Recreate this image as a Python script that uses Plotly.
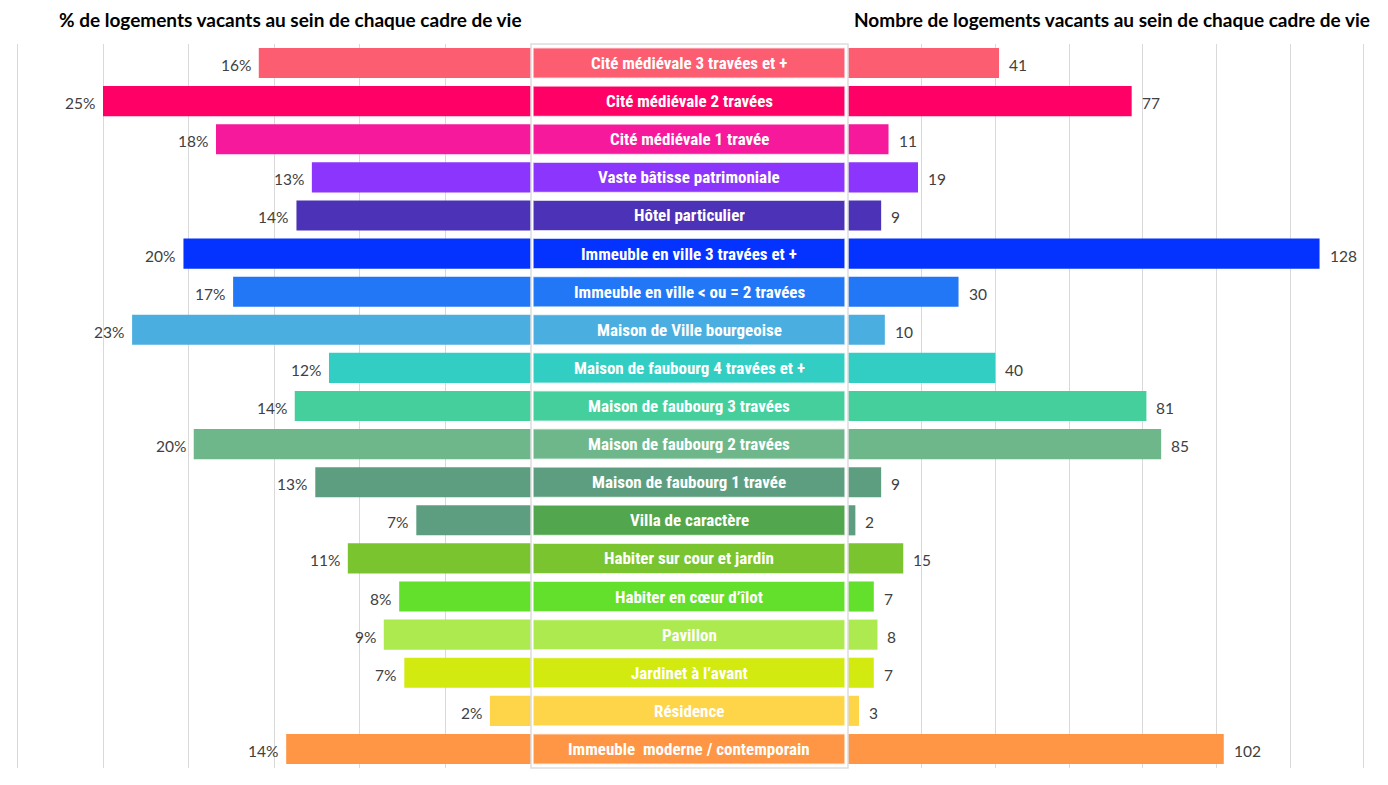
import plotly.graph_objects as go

categories = [
    "Cité médiévale 3 travées et +",
    "Cité médiévale 2 travées",
    "Cité médiévale 1 travée",
    "Vaste bâtisse patrimoniale",
    "Hôtel particulier",
    "Immeuble en ville 3 travées et +",
    "Immeuble en ville < ou = 2 travées",
    "Maison de Ville bourgeoise",
    "Maison de faubourg 4 travées et +",
    "Maison de faubourg 3 travées",
    "Maison de faubourg 2 travées",
    "Maison de faubourg 1 travée",
    "Villa de caractère",
    "Habiter sur cour et jardin",
    "Habiter en cœur d’îlot",
    "Pavillon",
    "Jardinet à l’avant",
    "Résidence",
    "Immeuble  moderne / contemporain",
]
pct_vacant = [15.9, 25.0, 18.4, 12.8, 13.7, 20.3, 17.4, 23.3, 11.8, 13.8, 19.7, 12.6,
              6.7, 10.7, 7.7, 8.6, 7.4, 2.4, 14.3]
nb_vacant = [41, 77, 11, 19, 9, 128, 30, 10, 40, 81, 85, 9, 2, 15, 7, 8, 7, 3, 102]
bar_colors = ["#FD5D71", "#FF0066", "#F7199C", "#8C35FD", "#4B32B6", "#0433FF",
              "#2277F7", "#4BAEE0", "#33CEC3", "#44CF9C", "#6DB78B", "#5E9E80",
              "#5E9E80", "#7AC52F", "#63E02B", "#ADEA4F", "#D3EA10", "#FED448", "#FE9645"]
label_colors = ["#FD5D71", "#FF0066", "#F7199C", "#8C35FD", "#4B32B6", "#0433FF",
                "#2277F7", "#4BAEE0", "#33CEC3", "#44CF9C", "#6DB78B", "#5E9E80",
                "#52A64D", "#7AC52F", "#63E02B", "#ADEA4F", "#D3EA10", "#FED448", "#FE9645"]
pct_ticks = [0, 5, 10, 15, 20, 25, 30]
nb_ticks = [0, 20, 40, 60, 80, 100, 120, 140]
title_left = "% de logements vacants au sein de chaque cadre de vie"
title_right = "Nombre de logements vacants au sein de chaque cadre de vie"

W, H = 1388, 785
MT, MB = 44, 17
X0_LEFT, PX_PER_PCT = 531, 17.12
X0_RIGHT, PX_PER_NB = 848, 3.684


def px(xp):
    return xp / W


fig = go.Figure()
fig.add_trace(go.Bar(y=categories, x=pct_vacant, orientation="h", xaxis="x", yaxis="y",
                     marker=dict(color=bar_colors, line=dict(width=0)), hoverinfo="x+y"))
fig.add_trace(go.Bar(y=categories, x=nb_vacant, orientation="h", xaxis="x2", yaxis="y",
                     marker=dict(color=bar_colors, line=dict(width=0)), hoverinfo="x+y"))

val_font = dict(family="Lato, Open Sans, sans-serif", size=15.5, color="#404040")
ann = []
shapes = []
for i, c in enumerate(categories):
    ann.append(dict(x=pct_vacant[i], y=c, xref="x", yref="y", text=f"{round(pct_vacant[i])}%",
                    showarrow=False, xanchor="right", xshift=-6, yshift=-2, font=val_font))
    ann.append(dict(x=nb_vacant[i], y=c, xref="x2", yref="y", text=str(nb_vacant[i]),
                    showarrow=False, xanchor="left", xshift=8, yshift=-2, font=val_font))
    shapes.append(dict(type="rect", xref="paper", yref="y", x0=px(533), x1=px(845),
                       y0=i - 0.4, y1=i + 0.4, fillcolor=label_colors[i],
                       line=dict(color="rgba(255,255,255,0.7)", width=1.5), layer="above"))
    ann.append(dict(x=px(689), y=c, xref="paper", yref="y", text=f"<b>{c}</b>",
                    showarrow=False, xanchor="center",
                    font=dict(family="Roboto Condensed, Liberation Sans Narrow, DejaVu Sans Condensed, sans-serif",
                              size=17, color="white")))

shapes.insert(0, dict(type="rect", xref="paper", yref="paper", x0=px(531), x1=px(848),
                      y0=0, y1=1, fillcolor="white", line=dict(color="#DDDDDD", width=1.5),
                      layer="above"))

title_font = dict(family="Lato, Open Sans, sans-serif", size=19, color="black")
ann.append(dict(x=px(57), y=1, xref="paper", yref="paper", yshift=25, text=f"<b>{title_left}</b>",
                showarrow=False, xanchor="left", yanchor="middle", font=title_font))
ann.append(dict(x=px(1372), y=1, xref="paper", yref="paper", yshift=25, text=f"<b>{title_right}</b>",
                showarrow=False, xanchor="right", yanchor="middle", font=title_font))

fig.update_layout(
    width=W, height=H,
    margin=dict(l=0, r=0, t=MT, b=MB),
    paper_bgcolor="white", plot_bgcolor="white",
    showlegend=False, barmode="overlay", bargap=0.21,
    xaxis=dict(domain=[0, px(X0_LEFT)], range=[X0_LEFT / PX_PER_PCT, 0], tickvals=pct_ticks,
               showticklabels=False, showgrid=True, gridcolor="#D9D9D9", gridwidth=1,
               zeroline=False, showline=False, fixedrange=True),
    xaxis2=dict(domain=[px(X0_RIGHT), 1], range=[0, (W - X0_RIGHT) / PX_PER_NB], tickvals=nb_ticks,
                showticklabels=False, showgrid=True, gridcolor="#D9D9D9", gridwidth=1,
                zeroline=False, showline=False, fixedrange=True),
    yaxis=dict(categoryorder="array", categoryarray=categories, autorange="reversed",
               showticklabels=False, showgrid=False, zeroline=False, fixedrange=True),
    annotations=ann, shapes=shapes,
)

fig.write_html("out.html")
